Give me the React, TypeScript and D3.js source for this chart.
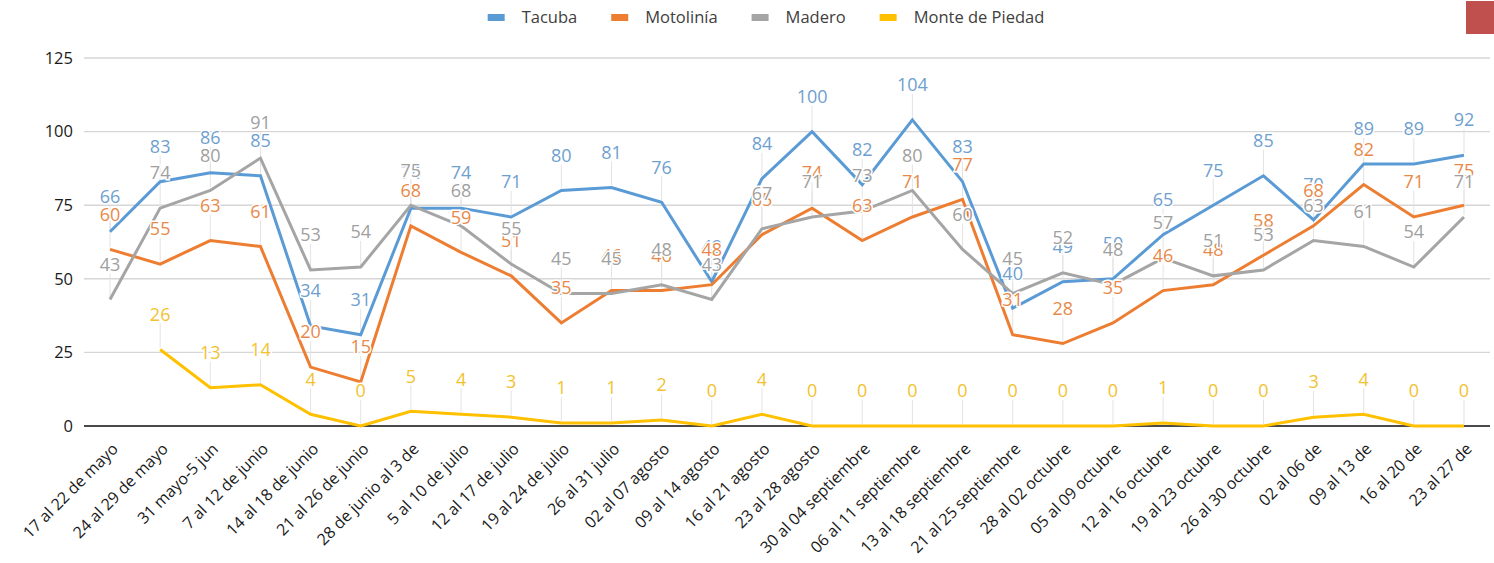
import React, { useEffect, useRef } from "react";
import * as d3 from "d3";

const categories = [
  "17 al 22 de mayo", "24 al 29 de mayo", "31 mayo-5 jun", "7 al 12 de junio",
  "14 al 18 de junio", "21 al 26 de junio", "28 de junio al 3 de", "5 al 10 de julio",
  "12 al 17 de julio", "19 al 24 de julio", "26 al 31 julio", "02 al 07 agosto",
  "09 al 14 agosto", "16 al 21 agosto", "23 al 28 agosto", "30 al 04 septiembre",
  "06 al 11 septiembre", "13 al 18 septiembre", "21 al 25 septiembre", "28 al 02 octubre",
  "05 al 09 octubre", "12 al 16 octubre", "19 al 23 octubre", "26 al 30 octubre",
  "02 al 06 de", "09 al 13 de", "16 al 20 de", "23 al 27 de",
];

const tacuba = [66, 83, 86, 85, 34, 31, 74, 74, 71, 80, 81, 76, 49, 84, 100, 82, 104, 83, 40, 49, 50, 65, 75, 85, 70, 89, 89, 92];
const motolinia = [60, 55, 63, 61, 20, 15, 68, 59, 51, 35, 46, 46, 48, 65, 74, 63, 71, 77, 31, 28, 35, 46, 48, 58, 68, 82, 71, 75];
const madero = [43, 74, 80, 91, 53, 54, 75, 68, 55, 45, 45, 48, 43, 67, 71, 73, 80, 60, 45, 52, 48, 57, 51, 53, 63, 61, 54, 71];
const montePiedad: (number | null)[] = [null, 26, 13, 14, 4, 0, 5, 4, 3, 1, 1, 2, 0, 4, 0, 0, 0, 0, 0, 0, 0, 1, 0, 0, 3, 4, 0, 0];

const yTicks = [0, 25, 50, 75, 100, 125];

const seriesNames = ["Tacuba", "Motolinía", "Madero", "Monte de Piedad"];
const seriesColors = ["#5b9bd5", "#ed7d31", "#a5a5a5", "#ffc000"];
const labelColors = ["#6f9fcf", "#e8894a", "#a0a0a0", "#f2c230"];

export default function App() {
  const ref = useRef<SVGSVGElement>(null);

  useEffect(() => {
    const svg = d3.select(ref.current);
    svg.selectAll("*").remove();

    const x = d3.scalePoint<string>().domain(categories).range([110, 1464]);
    const y = d3.scaleLinear().domain([0, 125]).range([426, 58]);

    const allSeries = [tacuba, motolinia, madero, montePiedad];

    // gridlines
    const grid = svg.append("g");
    yTicks.forEach((t) => {
      grid.append("line")
        .attr("x1", 84).attr("x2", 1490)
        .attr("y1", y(t)).attr("y2", y(t))
        .attr("stroke", t === 0 ? "#4a4a4a" : "#d6d6d6")
        .attr("stroke-width", t === 0 ? 1.8 : 1.4);
      grid.append("text")
        .attr("x", 73).attr("y", y(t))
        .attr("dy", "0.35em")
        .attr("text-anchor", "end")
        .attr("font-family", "Open Sans, sans-serif")
        .attr("font-size", 16.5)
        .attr("fill", "#1a1a1a")
        .text(t);
    });

    // leader lines
    const leaders = svg.append("g");
    allSeries.forEach((s) => {
      s.forEach((v, i) => {
        if (v == null) return;
        leaders.append("line")
          .attr("x1", x(categories[i])!).attr("x2", x(categories[i])!)
          .attr("y1", y(v) - 2).attr("y2", y(v) - 26)
          .attr("stroke", "#e3e3e3").attr("stroke-width", 1);
      });
    });

    // lines
    const lineGen = d3.line<number | null>()
      .defined((d) => d != null)
      .x((_, i) => x(categories[i])!)
      .y((d) => y(d as number));

    allSeries.forEach((s, k) => {
      svg.append("path")
        .datum(s)
        .attr("d", lineGen as any)
        .attr("fill", "none")
        .attr("stroke", seriesColors[k])
        .attr("stroke-width", 3)
        .attr("stroke-linejoin", "miter");
    });

    // data labels
    allSeries.forEach((s, k) => {
      const g = svg.append("g");
      s.forEach((v, i) => {
        if (v == null) return;
        g.append("text")
          .attr("x", x(categories[i])!)
          .attr("y", y(v) - 35)
          .attr("dy", "0.35em")
          .attr("text-anchor", "middle")
          .attr("font-family", "Open Sans, sans-serif")
          .attr("font-size", 18)
          .attr("fill", labelColors[k])
          .attr("stroke", "#ffffff")
          .attr("stroke-width", 3)
          .attr("paint-order", "stroke")
          .text(v);
      });
    });

    // x labels
    const xl = svg.append("g");
    categories.forEach((c) => {
      xl.append("text")
        .attr("transform", `translate(${x(c)! + 5},${446}) rotate(-45)`)
        .attr("text-anchor", "end")
        .attr("dy", "0.35em")
        .attr("font-family", "Open Sans, sans-serif")
        .attr("font-size", 16)
        .attr("fill", "#1a1a1a")
        .text(c);
    });

    // legend
    const leg = svg.append("g");
    const items = seriesNames.map((n, k) => {
      const gi = leg.append("g");
      gi.append("rect").attr("x", 0).attr("y", 14).attr("width", 17).attr("height", 7).attr("fill", seriesColors[k]);
      const t = gi.append("text")
        .attr("x", 34).attr("y", 17.5)
        .attr("dy", "0.35em")
        .attr("font-family", "Open Sans, sans-serif")
        .attr("font-size", 16.5)
        .attr("fill", "#404040")
        .text(n);
      const w = (t.node() as SVGTextElement).getComputedTextLength();
      return { gi, w: 34 + w };
    });
    const spacing = 34;
    const total = items.reduce((a, b) => a + b.w, 0) + spacing * (items.length - 1);
    let cx = 766 - total / 2;
    items.forEach((it) => {
      it.gi.attr("transform", `translate(${cx},0)`);
      cx += it.w + spacing;
    });

    // red box
    svg.append("rect").attr("x", 1466).attr("y", 1).attr("width", 28).attr("height", 33).attr("fill", "#c0504d");
  }, []);

  return (
    <svg
      ref={ref}
      width={1494}
      height={563}
      style={{ position: "absolute", left: 0, top: 0, background: "#fff" }}
    />
  );
}
